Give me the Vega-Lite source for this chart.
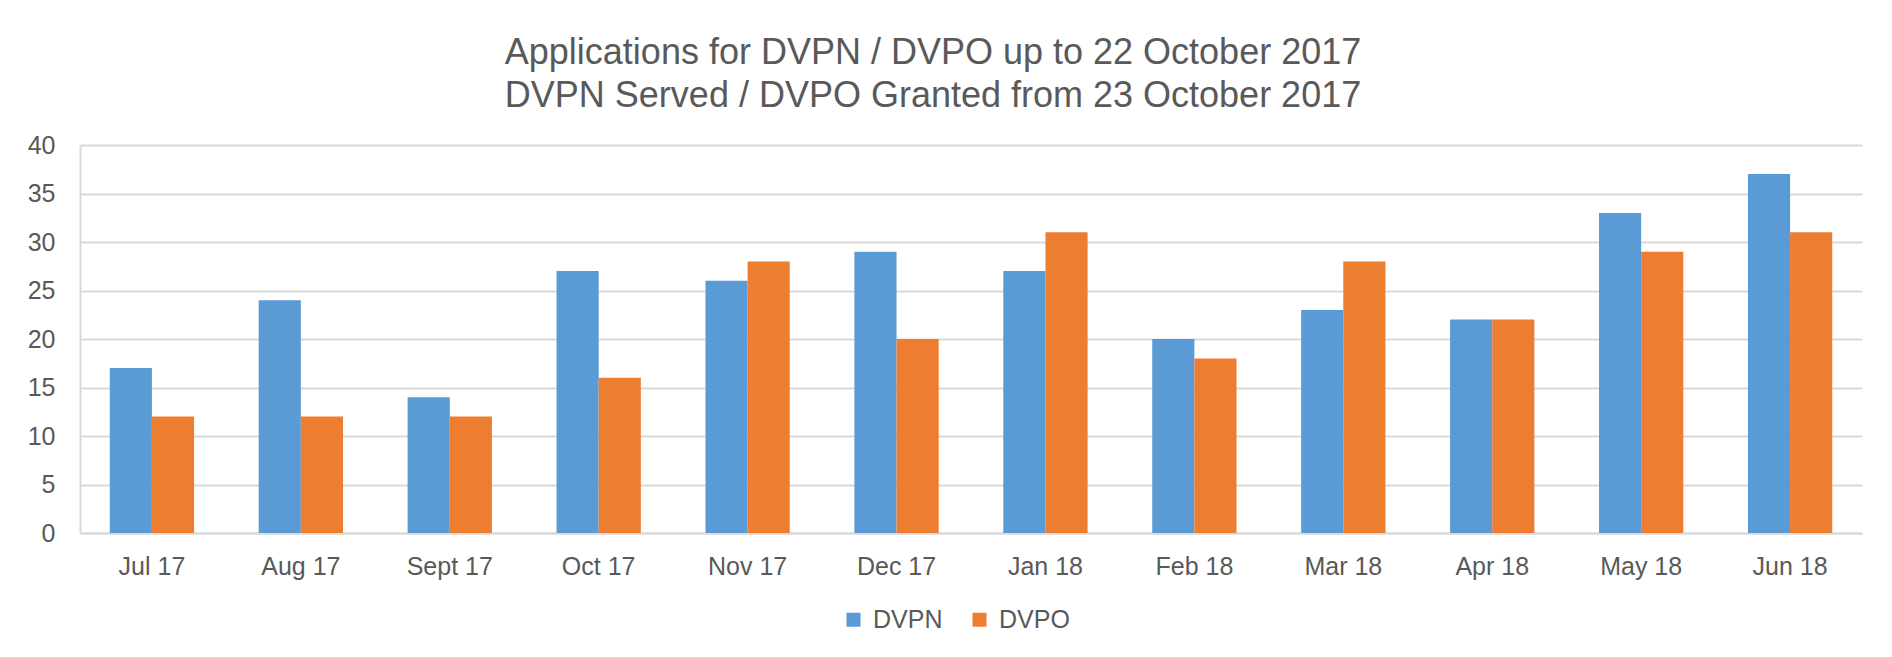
{
  "$schema": "https://vega.github.io/schema/vega-lite/v6.json",
  "width": 1782,
  "height": 388,
  "autosize": {"type": "none"},
  "padding": {"left": 80, "top": 145, "right": 30, "bottom": 124},
  "background": "white",
  "title": {
    "text": ["Applications for DVPN / DVPO up to 22 October 2017", "DVPN Served / DVPO Granted from 23 October 2017"],
    "fontSize": 36,
    "font": "Liberation Sans",
    "fontWeight": "normal",
    "color": "#595959",
    "lineHeight": 43,
    "anchor": "middle",
    "dx": -38,
    "baseline": "alphabetic",
    "offset": -10
  },
  "data": {
    "values": [
      {"month": "Jul 17", "series": "DVPN", "value": 17},
      {"month": "Jul 17", "series": "DVPO", "value": 12},
      {"month": "Aug 17", "series": "DVPN", "value": 24},
      {"month": "Aug 17", "series": "DVPO", "value": 12},
      {"month": "Sept 17", "series": "DVPN", "value": 14},
      {"month": "Sept 17", "series": "DVPO", "value": 12},
      {"month": "Oct 17", "series": "DVPN", "value": 27},
      {"month": "Oct 17", "series": "DVPO", "value": 16},
      {"month": "Nov 17", "series": "DVPN", "value": 26},
      {"month": "Nov 17", "series": "DVPO", "value": 28},
      {"month": "Dec 17", "series": "DVPN", "value": 29},
      {"month": "Dec 17", "series": "DVPO", "value": 20},
      {"month": "Jan 18", "series": "DVPN", "value": 27},
      {"month": "Jan 18", "series": "DVPO", "value": 31},
      {"month": "Feb 18", "series": "DVPN", "value": 20},
      {"month": "Feb 18", "series": "DVPO", "value": 18},
      {"month": "Mar 18", "series": "DVPN", "value": 23},
      {"month": "Mar 18", "series": "DVPO", "value": 28},
      {"month": "Apr 18", "series": "DVPN", "value": 22},
      {"month": "Apr 18", "series": "DVPO", "value": 22},
      {"month": "May 18", "series": "DVPN", "value": 33},
      {"month": "May 18", "series": "DVPO", "value": 29},
      {"month": "Jun 18", "series": "DVPN", "value": 37},
      {"month": "Jun 18", "series": "DVPO", "value": 31}
    ]
  },
  "mark": {"type": "bar"},
  "encoding": {
    "x": {
      "field": "month",
      "type": "nominal",
      "sort": null,
      "scale": {"paddingInner": 0.434},
      "axis": {
        "title": null,
        "labelAngle": 0,
        "labelFontSize": 25,
        "labelColor": "#595959",
        "ticks": false,
        "tickSize": 0,
        "labelPadding": 21,
        "domainColor": "#D9D9D9",
        "domainWidth": 2
      }
    },
    "xOffset": {"field": "series", "type": "nominal", "sort": ["DVPN", "DVPO"]},
    "y": {
      "field": "value",
      "type": "quantitative",
      "scale": {"domain": [0, 40]},
      "axis": {
        "title": null,
        "values": [0, 5, 10, 15, 20, 25, 30, 35, 40],
        "grid": true,
        "gridColor": "#D9D9D9",
        "gridWidth": 2,
        "domain": true,
        "domainColor": "#D9D9D9",
        "domainWidth": 2,
        "ticks": false,
        "tickSize": 0,
        "labelFontSize": 25,
        "labelColor": "#595959",
        "labelPadding": 25
      }
    },
    "color": {
      "field": "series",
      "type": "nominal",
      "scale": {"domain": ["DVPN", "DVPO"], "range": ["#5B9BD5", "#ED7D31"]},
      "legend": {
        "title": null,
        "orient": "none",
        "legendX": 761,
        "legendY": 462,
        "direction": "horizontal",
        "symbolType": "square",
        "symbolSize": 196,
        "symbolStrokeWidth": 0,
        "symbolOpacity": 1,
        "labelFontSize": 25,
        "labelColor": "#595959",
        "labelOffset": 7,
        "columnPadding": 24
      }
    }
  },
  "config": {
    "view": {"stroke": null},
    "font": "Liberation Sans"
  }
}
